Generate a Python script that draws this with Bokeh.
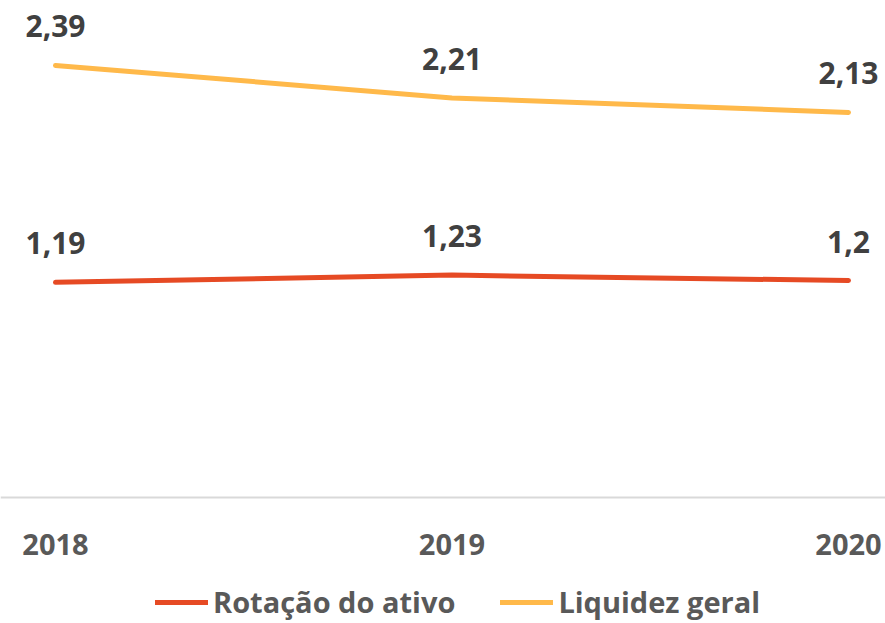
from bokeh.plotting import figure
from bokeh.models import Range1d, FixedTicker, Legend, LegendItem, ColumnDataSource, LabelSet
from bokeh.core.properties import value
from bokeh.embed import file_html
from bokeh.resources import INLINE

years = [2018, 2019, 2020]
year_labels = ["2018", "2019", "2020"]
rotacao = [1.19, 1.23, 1.2]
liquidez = [2.39, 2.21, 2.13]
rotacao_labels = ["1,19", "1,23", "1,2"]
liquidez_labels = ["2,39", "2,21", "2,13"]
series_names = ["Rotação do ativo", "Liquidez geral"]

RED = "#E64A24"
YEL = "#FFB94A"
FONT = "Open Sans"

p = figure(width=885, height=623, output_backend="svg", toolbar_location=None,
           x_range=Range1d(2017.8613, 2020.0933), y_range=Range1d(-0.6969, 2.7489),
           y_axis_location=None, min_border=0,
           min_border_left=0, min_border_right=0, min_border_top=0, min_border_bottom=0)
p.outline_line_color = None
p.xgrid.visible = False
p.ygrid.visible = False

src_r = ColumnDataSource(dict(x=years, y=rotacao, t=rotacao_labels))
src_l = ColumnDataSource(dict(x=years, y=liquidez, t=liquidez_labels))

r1 = p.line("x", "y", source=src_r, line_color=RED, line_width=5, line_cap="round")
r2 = p.line("x", "y", source=src_l, line_color=YEL, line_width=5, line_cap="round")

for src in (src_r, src_l):
    p.add_layout(LabelSet(x="x", y="y", text="t", source=src, y_offset=39,
                          text_align="center", text_baseline="middle",
                          text_font=value(FONT), text_font_style="bold",
                          text_font_size="30px", text_color="#404040"))

ax = p.xaxis[0]
ax.fixed_location = 0
ax.ticker = FixedTicker(ticks=years)
ax.major_label_overrides = {y: l for y, l in zip(years, year_labels)}
ax.axis_line_color = "#D9D9D9"
ax.axis_line_width = 2
ax.major_tick_line_color = None
ax.minor_tick_line_color = None
ax.major_label_standoff = 30
ax.major_label_text_font = FONT
ax.major_label_text_font_style = "bold"
ax.major_label_text_font_size = "29px"
ax.major_label_text_color = "#595959"

legend = Legend(items=[LegendItem(label=series_names[0], renderers=[r1]),
                       LegendItem(label=series_names[1], renderers=[r2])],
                orientation="horizontal", location=(155, 2),
                margin=0, padding=0, spacing=45,
                glyph_width=53, glyph_height=30, label_standoff=5,
                label_text_font=FONT, label_text_font_style="bold",
                label_text_font_size="29px", label_text_color="#595959",
                background_fill_alpha=0, border_line_color=None)
p.add_layout(legend, "center")

open("out.html", "w").write(file_html(p, INLINE))
